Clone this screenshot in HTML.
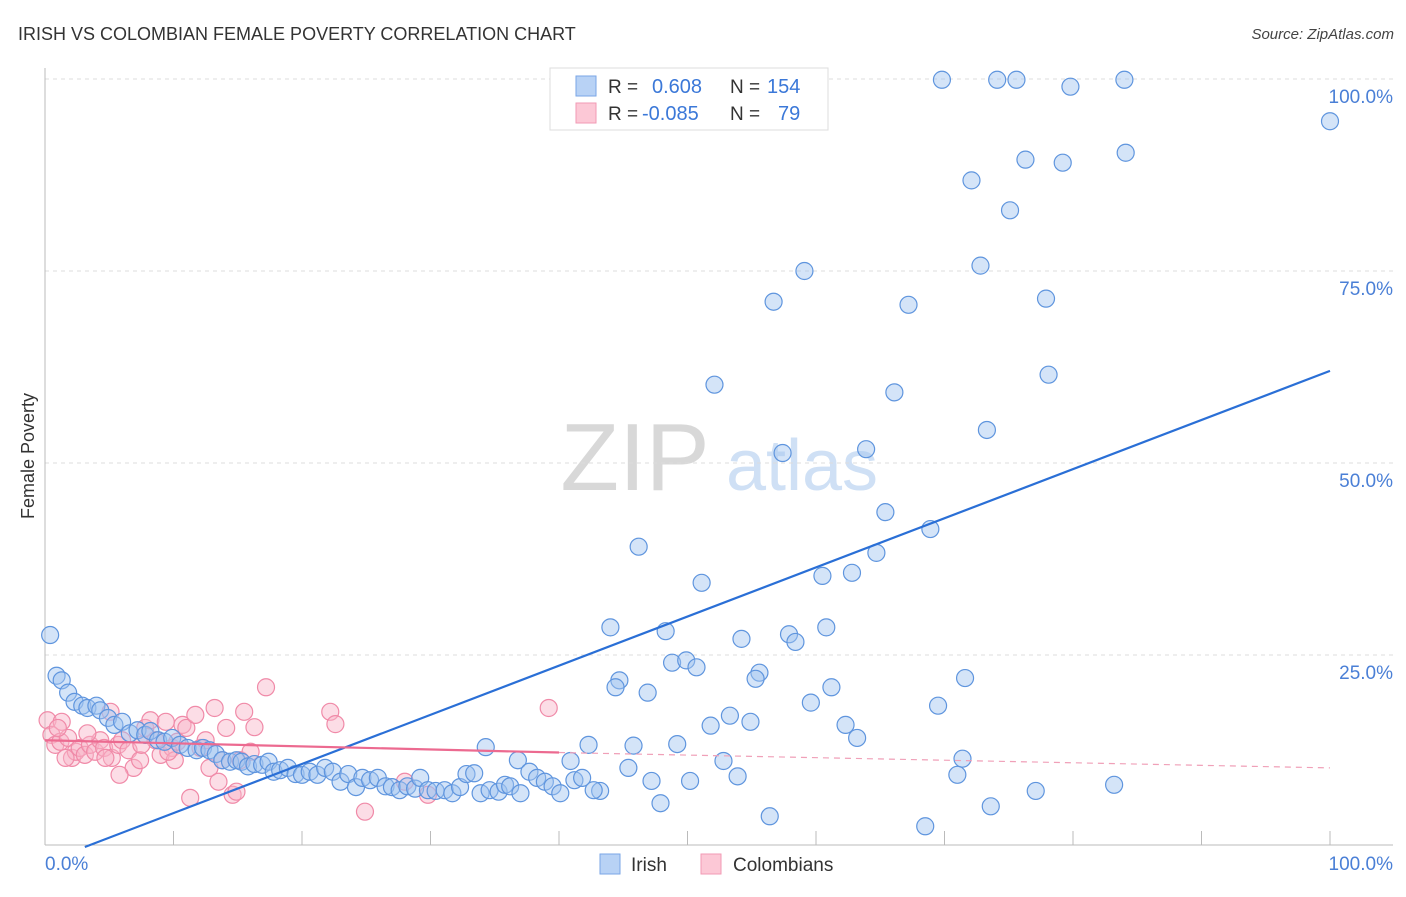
<!DOCTYPE html>
<html><head><meta charset="utf-8"><style>
body{margin:0;background:#fff;font-family:"Liberation Sans",sans-serif}
svg text{font-family:"Liberation Sans",sans-serif}
</style></head><body>
<svg id="chart" width="1406" height="892" xmlns="http://www.w3.org/2000/svg">
<text x="18" y="40" font-size="18" fill="#333">IRISH VS COLOMBIAN FEMALE POVERTY CORRELATION CHART</text>
<text x="1394" y="39" font-size="15" fill="#444" font-style="italic" text-anchor="end">Source: ZipAtlas.com</text>
<text transform="translate(34,456) rotate(-90)" font-size="18" fill="#333" text-anchor="middle">Female Poverty</text>
<g>
<text x="635" y="490" font-size="96" fill="#d8d8d8" font-family="Liberation Serif" text-anchor="middle">ZIP</text>
<text x="802" y="490" font-size="72" fill="#cfe0f5" text-anchor="middle">atlas</text>
</g>
<g id="grid"></g>
<g id="axes"></g>
<g id="pts"></g>
<g id="lines"></g>
<g>
<rect x="550" y="68" width="278" height="62" fill="#fff" stroke="#ddd"/>
<rect x="576" y="76" width="20" height="20" fill="#b8d2f5" stroke="#7aa6e6"/>
<rect x="576" y="103" width="20" height="20" fill="#fcc8d6" stroke="#f29ab4"/>
<text x="608" y="93" font-size="19" fill="#333">R =</text>
<text x="652" y="93" font-size="20" fill="#3b78d8">0.608</text>
<text x="730" y="93" font-size="19" fill="#333">N =</text>
<text x="767" y="93" font-size="20" fill="#3b78d8">154</text>
<text x="608" y="120" font-size="19" fill="#333">R =</text>
<text x="642" y="120" font-size="20" fill="#3b78d8">-0.085</text>
<text x="730" y="120" font-size="19" fill="#333">N =</text>
<text x="778" y="120" font-size="20" fill="#3b78d8">79</text>
</g>
<g>
<rect x="600" y="854" width="20" height="20" fill="#b8d2f5" stroke="#7aa6e6"/>
<text x="631" y="871" font-size="19" fill="#333">Irish</text>
<rect x="701" y="854" width="20" height="20" fill="#fcc8d6" stroke="#f29ab4"/>
<text x="733" y="871" font-size="19" fill="#333">Colombians</text>
</g>
</svg>
<script>
const blueX=[69.8,74.1,75.6,79.8,84.0,100,76.3,79.2,84.1,72.1,75.1,59.1,72.8,56.7,67.2,77.9,52.1,66.1,78.1,73.3,63.9,57.4,65.4,68.9,46.2,64.7,60.5,62.8,51.1,44.0,48.3,54.2,57.9,58.4,60.8,48.8,49.9,50.7,44.7,44.4,46.9,55.6,55.3,61.2,71.6,59.6,69.5,53.3,51.8,54.9,62.3,63.2,34.3,42.3,45.8,49.2,71.4,36.8,40.9,52.8,45.4,71.0,53.9,47.2,50.2,83.2,77.1,43.2,47.9,73.6,56.4,68.5,0.4,0.9,1.3,1.8,2.3,2.9,3.3,4.0,4.3,4.9,5.4,6.0,6.6,7.2,7.8,8.2,8.8,9.3,9.9,10.5,11.1,11.8,12.3,12.8,13.3,13.8,14.4,14.9,15.3,15.8,16.3,16.9,17.4,17.8,18.3,18.9,19.5,20.0,20.6,21.2,21.8,22.4,23.0,23.6,24.2,24.7,25.3,25.9,26.5,27.0,27.6,28.2,28.8,29.2,29.8,30.4,31.1,31.7,32.3,32.8,33.4,33.9,34.6,35.3,35.8,36.2,37.7,38.3,38.9,39.5,40.1,41.2,41.8,42.7,37.0];
const blueY=[99.9,99.9,99.9,99.0,99.9,94.5,89.5,89.1,90.4,86.8,82.9,75.0,75.7,71.0,70.6,71.4,60.2,59.2,61.5,54.3,51.8,51.3,43.6,41.4,39.1,38.3,35.3,35.7,34.4,28.6,28.1,27.1,27.7,26.7,28.6,24.0,24.3,23.4,21.7,20.8,20.1,22.7,21.9,20.8,22.0,18.8,18.4,17.1,15.8,16.3,15.9,14.2,13.0,13.3,13.2,13.4,11.5,11.3,11.2,11.2,10.3,9.4,9.2,8.6,8.6,8.1,7.3,7.3,5.7,5.3,4.0,2.7,27.6,22.3,21.7,20.1,18.9,18.4,18.1,18.4,17.8,16.8,15.9,16.3,14.8,15.2,14.6,15.1,13.9,13.7,14.2,13.3,12.9,12.6,12.9,12.6,12.1,11.3,11.1,11.3,11.1,10.5,10.8,10.7,11.1,9.8,10.0,10.3,9.5,9.4,9.8,9.4,10.3,9.8,8.5,9.5,7.8,9.0,8.7,9.0,7.9,7.8,7.4,7.9,7.6,9.0,7.4,7.3,7.4,7.0,7.8,9.5,9.6,7.0,7.4,7.2,8.1,7.9,9.8,9.0,8.5,7.9,7.0,8.7,9.0,7.4,7.0];
const pinkX=[0.2,0.5,0.8,1.2,1.3,1.8,2.1,2.4,2.7,3.1,3.5,3.9,4.3,4.6,5.1,5.2,5.7,6.0,6.5,6.9,7.4,7.8,8.2,8.6,9.0,9.4,9.9,10.1,10.7,11.0,11.3,11.7,12.1,12.5,12.8,13.2,13.5,13.8,14.1,14.6,14.9,15.2,15.5,16.0,16.3,17.2,22.2,22.6,24.9,28.0,29.8,39.2,1.0,1.6,3.3,7.5,9.6,10.3,5.8,4.7];
const pinkY=[16.5,14.6,13.3,13.7,16.3,14.2,11.6,12.4,12.9,12.0,13.3,12.4,13.9,12.9,17.6,11.6,13.3,13.9,12.6,10.3,11.3,15.5,16.5,13.9,12.0,16.3,12.9,11.3,15.9,15.5,6.4,17.2,12.9,13.9,10.3,18.1,8.5,11.3,15.5,6.8,7.2,11.3,17.6,12.4,15.6,20.8,17.6,16.0,4.6,8.5,6.8,18.1,15.5,11.6,14.8,13.3,12.4,13.7,9.4,11.6];
const blueLine=[[3.1,0],[100,62.0]];
const pinkSolid=[[0,13.9],[40,12.3]];
const pinkDash=[[40,12.3],[100,10.3]];
const yTicks=[25,50,75,100];
const yTickLabels=["25.0%","50.0%","75.0%","100.0%"];
const xTicks=[10,20,30,40,50,60,70,80,90,100];

const NS="http://www.w3.org/2000/svg";
const X=v=>45+v*12.85, Y=v=>847-v*7.68;
function mk(t,a,p){const e=document.createElementNS(NS,t);for(const k in a)e.setAttribute(k,a[k]);document.getElementById(p).appendChild(e);return e;}
yTicks.forEach((t,i)=>{
 const g=mk('line',{x1:45,x2:1393,y1:Y(t),y2:Y(t),stroke:'#ddd','stroke-dasharray':'4,4'},'grid');
 
 
 const l=mk('text',{x:1393,y:Y(t)+24,'font-size':19,fill:'#4a7fd6','text-anchor':'end'},'grid');
 l.textContent=yTickLabels[i];
 
 
});
const ax=mk('line',{x1:45,x2:45,y1:68,y2:845,stroke:'#bbb'},'axes');


const bx=mk('line',{x1:45,x2:1393,y1:845,y2:845,stroke:'#bbb'},'axes');


xTicks.forEach(t=>{
 const k=mk('line',{x1:X(t),x2:X(t),y1:831,y2:845,stroke:'#bbb'},'axes');
 
 
});
const x0=mk('text',{x:45,y:870,'font-size':19,fill:'#4a7fd6'},'axes');x0.textContent="0.0%";


const x1=mk('text',{x:1393,y:870,'font-size':19,fill:'#4a7fd6','text-anchor':'end'},'axes');x1.textContent="100.0%";


pinkX.forEach((v,i)=>{
 const c=mk('circle',{cx:X(v),cy:Y(pinkY[i]),r:8.5,fill:'rgba(248,180,200,0.45)',stroke:'#f08aa8','stroke-width':1.2},'pts');
 
 
});
blueX.forEach((v,i)=>{
 const c=mk('circle',{cx:X(v),cy:Y(blueY[i]),r:8.5,fill:'rgba(160,195,240,0.45)',stroke:'#5f95de','stroke-width':1.2},'pts');
 
 
});
const bl=mk('line',{x1:X(blueLine[0][0]),y1:Y(blueLine[0][1]),x2:X(blueLine[1][0]),y2:Y(blueLine[1][1]),stroke:'#2a6fd6','stroke-width':2.2},'lines');


const ps=mk('line',{x1:X(pinkSolid[0][0]),y1:Y(pinkSolid[0][1]),x2:X(pinkSolid[1][0]),y2:Y(pinkSolid[1][1]),stroke:'#ec6a90','stroke-width':2.2},'lines');


const pd=mk('line',{x1:X(pinkDash[0][0]),y1:Y(pinkDash[0][1]),x2:X(pinkDash[1][0]),y2:Y(pinkDash[1][1]),stroke:'#f0a0b8','stroke-width':1.2,'stroke-dasharray':'6,5'},'lines');


</script>
</body></html>
